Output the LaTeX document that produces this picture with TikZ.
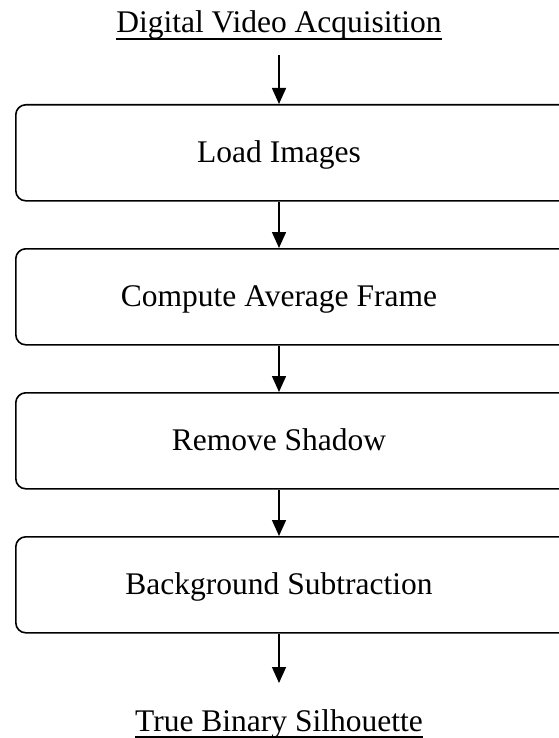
\documentclass[tikz,border=0pt]{standalone}
\usepackage{fontspec}
\setmainfont{Liberation Serif}
\usetikzlibrary{arrows.meta}
\begin{document}
\begin{tikzpicture}[x=1pt,y=-1pt,
  lbl/.style={inner sep=0pt, anchor=base, font=\fontsize{31.5}{36}\selectfont},
  stepbox/.style={draw, line width=1.6pt, rounded corners=10pt, anchor=north west,
    minimum width=570pt, minimum height=96pt, inner sep=0pt},
  flow/.style={line width=1.5pt, -{Triangle[width=14pt,length=16pt]}},
  uline/.style={line width=1.3pt}]
\useasboundingbox (0,0) rectangle (558,738);
% title
\node[lbl] (top) at (279,33) {Digital Video Acquisition};
\draw[uline] ([yshift=-6pt]top.base west) -- ([yshift=-6pt]top.base east);
% boxes
\node[stepbox] (b1) at (15,104) {};
\node[stepbox] (b2) at (15,248) {};
\node[stepbox] (b3) at (15,392) {};
\node[stepbox] (b4) at (15,536) {};
\node[lbl] (t1) at (279,162.5) {Load Images};
\node[lbl] (t2) at (279,306.5) {Compute Average Frame};
\node[lbl] (t3) at (279,450.5) {Remove Shadow};
\node[lbl] (t4) at (279,594.5) {Background Subtraction};
% bottom
\node[lbl] (bot) at (279,731) {True Binary Silhouette};
\draw[uline] ([yshift=-6pt]bot.base west) -- ([yshift=-6pt]bot.base east);
\coordinate (a0) at (279,55);
\coordinate (a5) at (279,683);
% arrows
\draw[flow] (a0) -- (t1 |- b1.north);
\draw[flow] (t1 |- b1.south) -- (t2 |- b2.north);
\draw[flow] (t2 |- b2.south) -- (t3 |- b3.north);
\draw[flow] (t3 |- b3.south) -- (t4 |- b4.north);
\draw[flow] (t4 |- b4.south) -- (a5);
\end{tikzpicture}
\end{document}
